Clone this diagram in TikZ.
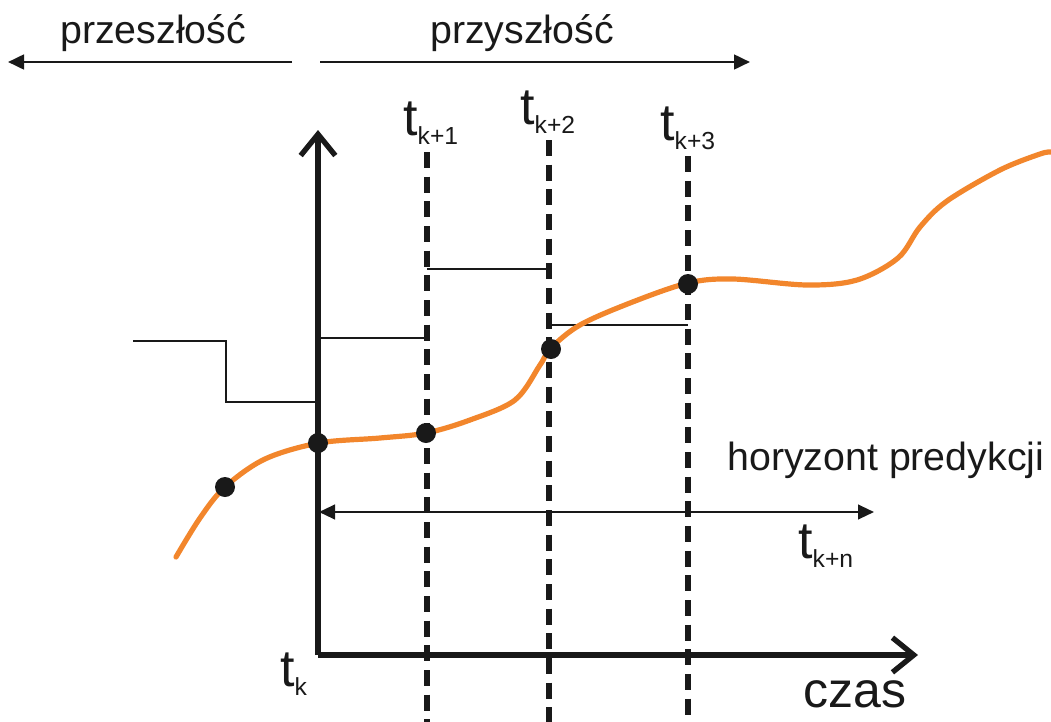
\documentclass[tikz,border=0pt]{standalone}
\usepackage{fontspec}
\setmainfont{Liberation Sans}
\usetikzlibrary{arrows.meta}
\definecolor{curveorange}{RGB}{242,134,44}
\definecolor{ink}{RGB}{25,25,25}
\newcommand\tlab[1]{{\fontsize{39}{39}\selectfont t}\raisebox{-6.75pt}{\fontsize{18.5}{18.5}\selectfont #1}}
\tikzset{
  axisline/.style={line width=4pt, ink, -{Straight Barb[length=16pt,width=26pt,line width=4pt]}},
  dashline/.style={line width=4.3pt, ink, dash pattern=on 12pt off 6.5pt},
  stepline/.style={line width=1.7pt, ink},
  toparrow/.style={line width=2pt, ink, -{Triangle[length=12pt,width=11pt]}},
  horarrow/.style={line width=1.6pt, ink, {Triangle[length=12pt,width=11pt]}-{Triangle[length=12pt,width=11pt]}},
  dot/.style={circle, fill=ink, inner sep=0pt, minimum size=15pt},
  lab/.style={anchor=base west, inner sep=0pt, text=ink, font=\fontsize{29.5}{30}\selectfont},
  tl/.style={anchor=base west, inner sep=0pt, text=ink}
}
\begin{document}
\begin{tikzpicture}[x=0.75pt,y=-0.75pt]
\useasboundingbox (0,0) rectangle (1051,722);
% coordinates
\coordinate (O) at (318,655);
\coordinate (ytop) at (318,130);
\coordinate (xend) at (918,655);
\coordinate (pastS) at (292,62);
\coordinate (pastE) at (8,62);
\coordinate (futS) at (320,62);
\coordinate (futE) at (750,62);
\coordinate (d1t) at (427,152); \coordinate (d1b) at (427,722);
\coordinate (d2t) at (549,140); \coordinate (d2b) at (549,722);
\coordinate (d3t) at (688,156); \coordinate (d3b) at (688,722);
\coordinate (hL) at (319,512); \coordinate (hR) at (874,512);
\coordinate (s0) at (133,341); \coordinate (s1) at (226,341);
\coordinate (s2) at (226,402); \coordinate (s3) at (318,402);
\coordinate (u0) at (318,338); \coordinate (u1) at (427,338);
\coordinate (v0) at (427,269); \coordinate (v1) at (549,269);
\coordinate (w0) at (549,325); \coordinate (w1) at (688,325);
% top labels
\node[lab] (past) at (60,43) {przeszłość};
\node[lab] (fut) at (430,43) {przyszłość};
\draw[toparrow] (pastS) -- (pastE);
\draw[toparrow] (futS) -- (futE);
% step lines
\draw[stepline] (s0) -- (s1) -- (s2) -- (s3);
\draw[stepline] (u0) -- (u1);
\draw[stepline] (v0) -- (v1);
\draw[stepline] (w0) -- (w1);
% dashed verticals
\draw[dashline] (d1t) -- (d1b);
\draw[dashline] (d2t) -- (d2b);
\draw[dashline] (d3t) -- (d3b);
% axes
\draw[axisline] (O) -- (ytop);
\draw[axisline] (O) -- (xend);
% horizon arrow
\draw[horarrow] (hL) -- (hR);
% orange curve
\draw[curveorange, line width=3.9pt, line cap=round] plot[smooth, tension=0.55] coordinates {
 (176,557) (200,518) (225,487) (265,459) (319,443) (380,438) (426,433)
 (470,420) (515,400) (540,365) (551,348) (580,325) (630,303) (688,283)
 (733,279) (807,285) (857,280) (898,258) (920,227) (947,201) (1000,170) (1040,154) (1051,152)};
% dots
\node[dot] (p0) at (225,487) {};
\node[dot] (p1) at (318,443) {};
\node[dot] (p2) at (426,433) {};
\node[dot] (p3) at (551,349) {};
\node[dot] (p4) at (688,284) {};
% labels
\node[tl] (tk1) at (403,135) {\tlab{k+1}};
\node[tl] (tk2) at (520,124) {\tlab{k+2}};
\node[tl] (tk3) at (660,140) {\tlab{k+3}};
\node[tl] (tkn) at (798,558) {\tlab{k+n}};
\node[tl] (tk) at (280,686) {\tlab{k}};
\node[lab] (hor) at (727,470) {horyzont predykcji};
\node[tl, font=\fontsize{37.5}{38}\selectfont] (czas) at (803,707) {czas};
\end{tikzpicture}
\end{document}
